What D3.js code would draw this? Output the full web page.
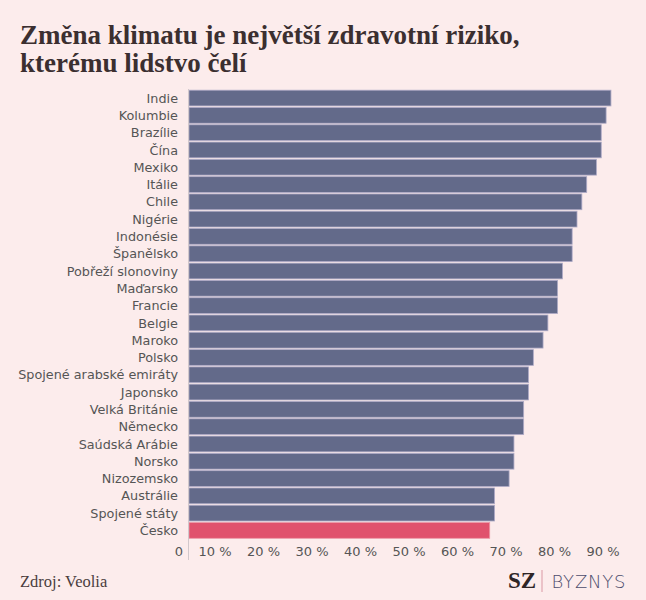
<!DOCTYPE html>
<html>
<head>
<meta charset="utf-8">
<script src="https://cdn.jsdelivr.net/npm/d3@7"></script>
<style>
  body { margin: 0; background: #fcecec; }
  svg { display: block; }
</style>
</head>
<body>
<div id="chart"></div>
<script>
var countries = ["Indie", "Kolumbie", "Brazílie", "Čína", "Mexiko", "Itálie", "Chile", "Nigérie",
  "Indonésie", "Španělsko", "Pobřeží slonoviny", "Maďarsko", "Francie", "Belgie", "Maroko", "Polsko",
  "Spojené arabské emiráty", "Japonsko", "Velká Británie", "Německo", "Saúdská Arábie", "Norsko",
  "Nizozemsko", "Austrálie", "Spojené státy", "Česko"];
var shares = [87, 86, 85, 85, 84, 82, 81, 80, 79, 79, 77, 76, 76, 74, 73, 71, 70, 70, 69, 69, 67, 67, 66, 63, 63, 62];
var tickValues = [0, 10, 20, 30, 40, 50, 60, 70, 80, 90];

var w = 646, h = 600;

var svg = d3.select("#chart").append("svg")
    .attr("width", w)
    .attr("height", h);

svg.append("rect").attr("width", w).attr("height", h).attr("fill", "#fcecec");

// title
var title = svg.append("text")
    .attr("x", 20)
    .attr("y", 44)
    .attr("font-family", "'Liberation Serif', serif")
    .attr("font-size", "27px")
    .attr("font-weight", "bold")
    .attr("fill", "#3b2f30");
title.append("tspan").attr("x", 20).text("Změna klimatu je největší zdravotní riziko,");
title.append("tspan").attr("x", 20).attr("dy", 27.7).text("kterému lidstvo čelí");

// scales
var xScale = d3.scaleLinear()
    .domain([0, 90])
    .range([189, 625.5]);

var yScale = d3.scaleBand()
    .domain(countries)
    .range([89.5, 539])
    .paddingInner(0.09)
    .paddingOuter(0.04);

// bars
svg.selectAll("rect.bar")
   .data(countries)
   .enter()
   .append("rect")
   .attr("class", "bar")
   .attr("x", xScale(0))
   .attr("y", function(d){ return yScale(d); })
   .attr("width", function(d, i){ return xScale(shares[i]) - xScale(0); })
   .attr("height", yScale.bandwidth())
   .attr("fill", function(d){ return d == "Česko" ? "#e0526d" : "#636a8a"; })
   .attr("stroke", function(d){ return d == "Česko" ? "#ec98a6" : "#aeaac6"; })
   .attr("stroke-width", 0.8);

// category labels
svg.selectAll("text.cat")
   .data(countries)
   .enter()
   .append("text")
   .attr("class", "cat")
   .attr("x", 178)
   .attr("y", function(d){ return yScale(d) + yScale.bandwidth() / 2; })
   .attr("dy", "0.36em")
   .attr("text-anchor", "end")
   .attr("font-family", "'DejaVu Sans', sans-serif")
   .attr("font-size", "12.8px")
   .attr("fill", "#555")
   .text(function(d){ return d; });

// vertical axis line
svg.append("line")
   .attr("x1", 188.5).attr("x2", 188.5)
   .attr("y1", 89).attr("y2", 560)
   .attr("stroke", "#d2c8cc")
   .attr("stroke-width", 1);

// x tick labels
svg.selectAll("text.tick")
   .data(tickValues)
   .enter()
   .append("text")
   .attr("class", "tick")
   .attr("x", function(d){ return xScale(d) - 6; })
   .attr("y", 556)
   .attr("text-anchor", "end")
   .attr("font-family", "'DejaVu Sans', sans-serif")
   .attr("font-size", "13px")
   .attr("fill", "#555")
   .text(function(d){ return d == 0 ? "0" : d + " %"; });

// source
svg.append("text")
   .attr("x", 20)
   .attr("y", 587)
   .attr("font-family", "'Liberation Serif', serif")
   .attr("font-size", "16.5px")
   .attr("fill", "#4a3d3e")
   .text("Zdroj: Veolia");

// logo
svg.append("text")
   .attr("x", 508)
   .attr("y", 588)
   .attr("font-family", "'Liberation Serif', serif")
   .attr("font-size", "23px")
   .attr("font-weight", "bold")
   .attr("fill", "#2e2526")
   .text("SZ");
svg.append("line")
   .attr("x1", 542).attr("x2", 542)
   .attr("y1", 570).attr("y2", 592)
   .attr("stroke", "#e6b4bd")
   .attr("stroke-width", 1.5);
svg.append("text")
   .attr("x", 551.5)
   .attr("y", 588)
   .attr("font-family", "'DejaVu Sans', sans-serif")
   .attr("font-size", "18px")
   .attr("font-weight", "200")
   .attr("letter-spacing", "0.8px")
   .attr("fill", "#4d4c6c")
   .text("BYZNYS");
</script>
</body>
</html>
